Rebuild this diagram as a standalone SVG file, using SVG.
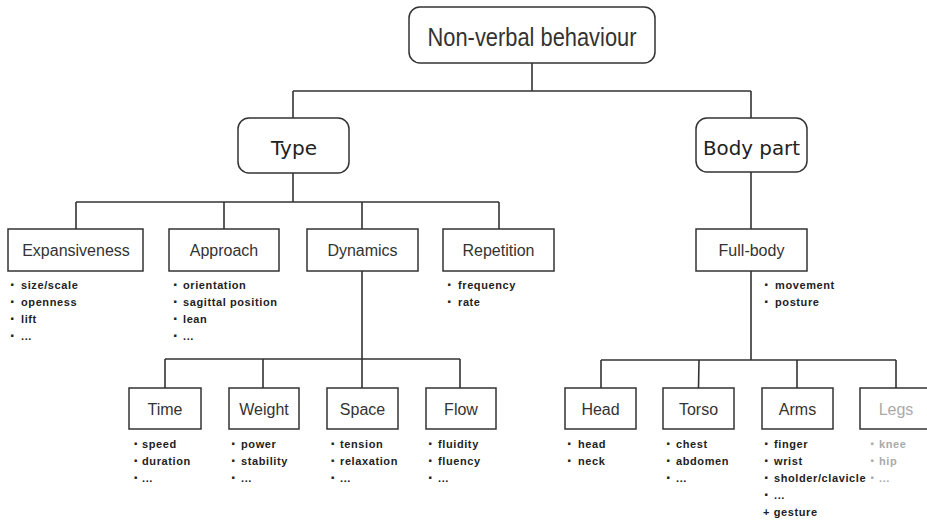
<svg xmlns="http://www.w3.org/2000/svg" width="927" height="520" viewBox="0 0 927 520">
  <style>
    .box { fill: #fff; stroke: #333; stroke-width: 1.5; }
    .wire { fill: none; stroke: #333; stroke-width: 1.6; }
    .lbl { font-family: "Liberation Sans", Arial, sans-serif; font-size: 16px; fill: #333; text-anchor: middle; }
    .cat { font-family: "DejaVu Sans", sans-serif; font-size: 20px; fill: #222; text-anchor: middle; }
    .root { font-family: "Liberation Sans", Arial, sans-serif; font-size: 26px; fill: #333; text-anchor: middle; }
    .item { font-family: "Liberation Sans", Arial, sans-serif; font-size: 11px; font-weight: bold; letter-spacing: 0.6px; fill: #222; }
    .dot { font-size: 5px; letter-spacing: 0; }
    .muted { fill: #aaa; }
  </style>

  <!-- connectors -->
  <g id="connectors" class="wire">
    <path d="M532 63V91M293 91H751M293 91V118M751 91V118"/>
    <path d="M293 173V202M76 202H499M76 202V229M224 202V229M362 202V229M499 202V229"/>
    <path d="M751 172V229"/>
    <path d="M362 271V359M165 359H460M165 359V388M263 359V388M362 359V388M460 359V388"/>
    <path d="M751 271V360M601 360H896M601 360V388M699 360L698.5 388M797 360V388M896 360V388"/>
  </g>

  <g id="root">
    <rect class="box" x="409" y="7" width="246" height="56" rx="11"/>
    <text class="root" x="532" y="46" textLength="209" lengthAdjust="spacingAndGlyphs">Non-verbal behaviour</text>
  </g>

  <g id="type">
    <rect class="box" x="238" y="118" width="111" height="55" rx="11"/>
    <text class="cat" x="294" y="155" textLength="46" lengthAdjust="spacingAndGlyphs">Type</text>
  </g>

  <g id="body-part">
    <rect class="box" x="696" y="118" width="111" height="54" rx="11"/>
    <text class="cat" x="751.5" y="155" textLength="97" lengthAdjust="spacingAndGlyphs">Body part</text>
  </g>

  <g id="expansiveness">
    <rect class="box" x="8" y="229" width="135" height="42"/>
    <text class="lbl" x="76" y="256">Expansiveness</text>
    <text class="item"><tspan class="dot" x="10.5" y="286">■</tspan><tspan x="21" y="289">size/scale</tspan></text>
    <text class="item"><tspan class="dot" x="10.5" y="303">■</tspan><tspan x="21" y="306">openness</tspan></text>
    <text class="item"><tspan class="dot" x="10.5" y="320">■</tspan><tspan x="21" y="323">lift</tspan></text>
    <text class="item"><tspan class="dot" x="10.5" y="337">■</tspan><tspan x="21" y="340">...</tspan></text>
  </g>

  <g id="approach">
    <rect class="box" x="169" y="229" width="110" height="42"/>
    <text class="lbl" x="224" y="256">Approach</text>
    <text class="item"><tspan class="dot" x="173.5" y="286">■</tspan><tspan x="183" y="289">orientation</tspan></text>
    <text class="item"><tspan class="dot" x="173.5" y="303">■</tspan><tspan x="183" y="306">sagittal position</tspan></text>
    <text class="item"><tspan class="dot" x="173.5" y="320">■</tspan><tspan x="183" y="323">lean</tspan></text>
    <text class="item"><tspan class="dot" x="173.5" y="337">■</tspan><tspan x="183" y="340">...</tspan></text>
  </g>

  <g id="dynamics">
    <rect class="box" x="307" y="229" width="111" height="42"/>
    <text class="lbl" x="362.5" y="256">Dynamics</text>
  </g>

  <g id="repetition">
    <rect class="box" x="443" y="229" width="111" height="42"/>
    <text class="lbl" x="498.5" y="256">Repetition</text>
    <text class="item"><tspan class="dot" x="447.5" y="286">■</tspan><tspan x="458" y="289">frequency</tspan></text>
    <text class="item"><tspan class="dot" x="447.5" y="303">■</tspan><tspan x="458" y="306">rate</tspan></text>
  </g>

  <g id="full-body">
    <rect class="box" x="696" y="229" width="111" height="42"/>
    <text class="lbl" x="751.5" y="256">Full-body</text>
    <text class="item"><tspan class="dot" x="764.5" y="286">■</tspan><tspan x="775" y="289">movement</tspan></text>
    <text class="item"><tspan class="dot" x="764.5" y="303">■</tspan><tspan x="775" y="306">posture</tspan></text>
  </g>

  <g id="time">
    <rect class="box" x="129" y="388" width="72" height="41"/>
    <text class="lbl" x="165" y="415">Time</text>
    <text class="item"><tspan class="dot" x="134" y="445">■</tspan><tspan x="142" y="448">speed</tspan></text>
    <text class="item"><tspan class="dot" x="134" y="462">■</tspan><tspan x="142" y="465">duration</tspan></text>
    <text class="item"><tspan class="dot" x="134" y="479">■</tspan><tspan x="142" y="482">...</tspan></text>
  </g>

  <g id="weight">
    <rect class="box" x="229" y="388" width="70" height="41"/>
    <text class="lbl" x="264" y="415">Weight</text>
    <text class="item"><tspan class="dot" x="231.5" y="445">■</tspan><tspan x="241" y="448">power</tspan></text>
    <text class="item"><tspan class="dot" x="231.5" y="462">■</tspan><tspan x="241" y="465">stability</tspan></text>
    <text class="item"><tspan class="dot" x="231.5" y="479">■</tspan><tspan x="241" y="482">...</tspan></text>
  </g>

  <g id="space">
    <rect class="box" x="327" y="388" width="71" height="41"/>
    <text class="lbl" x="362.5" y="415">Space</text>
    <text class="item"><tspan class="dot" x="331" y="445">■</tspan><tspan x="340" y="448">tension</tspan></text>
    <text class="item"><tspan class="dot" x="331" y="462">■</tspan><tspan x="340" y="465">relaxation</tspan></text>
    <text class="item"><tspan class="dot" x="331" y="479">■</tspan><tspan x="340" y="482">...</tspan></text>
  </g>

  <g id="flow">
    <rect class="box" x="426" y="388" width="70" height="41"/>
    <text class="lbl" x="461" y="415">Flow</text>
    <text class="item"><tspan class="dot" x="428.5" y="445">■</tspan><tspan x="438" y="448">fluidity</tspan></text>
    <text class="item"><tspan class="dot" x="428.5" y="462">■</tspan><tspan x="438" y="465">fluency</tspan></text>
    <text class="item"><tspan class="dot" x="428.5" y="479">■</tspan><tspan x="438" y="482">...</tspan></text>
  </g>

  <g id="head">
    <rect class="box" x="565" y="388" width="71" height="41"/>
    <text class="lbl" x="600.5" y="415">Head</text>
    <text class="item"><tspan class="dot" x="567.5" y="445">■</tspan><tspan x="578" y="448">head</tspan></text>
    <text class="item"><tspan class="dot" x="567.5" y="462">■</tspan><tspan x="578" y="465">neck</tspan></text>
  </g>

  <g id="torso">
    <rect class="box" x="663" y="388" width="71" height="41"/>
    <text class="lbl" x="698.5" y="415">Torso</text>
    <text class="item"><tspan class="dot" x="666.5" y="445">■</tspan><tspan x="676" y="448">chest</tspan></text>
    <text class="item"><tspan class="dot" x="666.5" y="462">■</tspan><tspan x="676" y="465">abdomen</tspan></text>
    <text class="item"><tspan class="dot" x="666.5" y="479">■</tspan><tspan x="676" y="482">...</tspan></text>
  </g>

  <g id="arms">
    <rect class="box" x="762" y="388" width="71" height="41"/>
    <text class="lbl" x="797.5" y="415">Arms</text>
    <text class="item"><tspan class="dot" x="764.5" y="445">■</tspan><tspan x="774" y="448">finger</tspan></text>
    <text class="item"><tspan class="dot" x="764.5" y="462">■</tspan><tspan x="774" y="465">wrist</tspan></text>
    <text class="item"><tspan class="dot" x="764.5" y="479">■</tspan><tspan x="774" y="482">sholder/clavicle</tspan></text>
    <text class="item"><tspan class="dot" x="764.5" y="496">■</tspan><tspan x="774" y="499">...</tspan></text>
    <text class="item" x="763" y="516">+ gesture</text>
  </g>

  <g id="legs">
    <rect class="box" x="860" y="388" width="72" height="41"/>
    <text class="lbl muted" x="896" y="415">Legs</text>
    <text class="item muted"><tspan class="dot" x="870.5" y="445">■</tspan><tspan x="879" y="448">knee</tspan></text>
    <text class="item muted"><tspan class="dot" x="870.5" y="462">■</tspan><tspan x="879" y="465">hip</tspan></text>
    <text class="item muted"><tspan class="dot" x="870.5" y="479">■</tspan><tspan x="879" y="482">...</tspan></text>
  </g>
</svg>
